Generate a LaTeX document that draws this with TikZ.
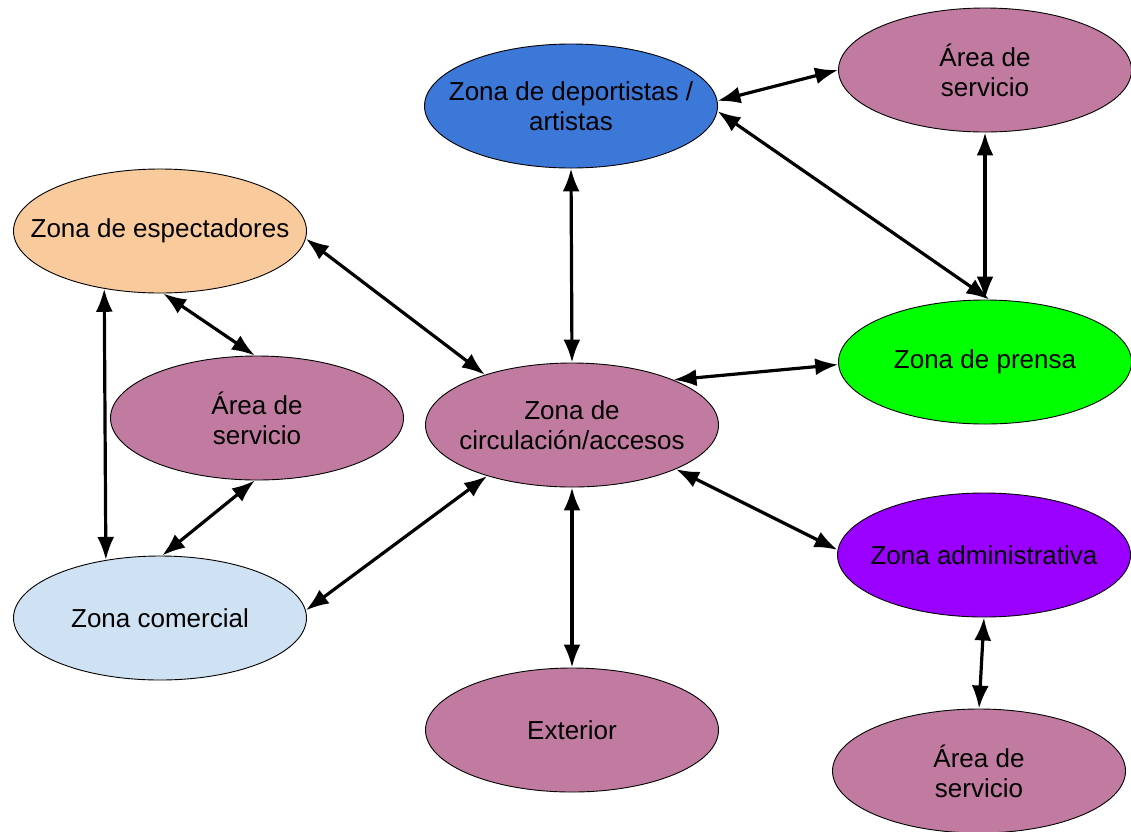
\documentclass[tikz,border=0pt]{standalone}
\usepackage{fontspec}
\setmainfont{Liberation Sans}
\usetikzlibrary{shapes.geometric,arrows.meta}
\definecolor{azul}{HTML}{3C78D8}
\definecolor{malva}{HTML}{C27BA0}
\definecolor{melocoton}{HTML}{F9CB9C}
\definecolor{verde}{HTML}{00FF00}
\definecolor{morado}{HTML}{9900FF}
\definecolor{celeste}{HTML}{CFE2F3}
\tikzset{
  zona/.style={ellipse,draw=black,line width=0.9pt,minimum width=293pt,
    minimum height=124pt,inner xsep=-30pt,inner ysep=0pt,align=center,
    font=\fontsize{26}{30}\selectfont},
  flecha/.style={{Latex[length=23pt,width=17pt]}-{Latex[length=23pt,width=17pt]},
    line width=3.2pt}
}
\begin{document}
\begin{tikzpicture}[x=1pt,y=-1pt]
    \useasboundingbox (0,0) rectangle (1131,831);
    % zonas
    \node[zona,fill=azul] (dep) at (571,106) {Zona de deportistas /\\artistas};
    \node[zona,fill=malva] (atr) at (985,70) {Área de\\servicio};
    \node[zona,fill=melocoton] (esp) at (160,231) {Zona de espectadores};
    \node[zona,fill=malva] (asl) at (257,418) {Área de\\servicio};
    \node[zona,fill=malva] (circ) at (572,425) {Zona de\\circulación/accesos};
    \node[zona,fill=verde] (pre) at (985,362) {Zona de prensa};
    \node[zona,fill=celeste] (com) at (160,618) {Zona comercial};
    \node[zona,fill=malva] (ext) at (572,730) {Exterior};
    \node[zona,fill=morado] (adm) at (984,555) {Zona administrativa};
    \node[zona,fill=malva] (abr) at (979,771) {Área de\\servicio};
    % conexiones
    \draw[flecha] (dep.2) -- (atr.180);
    \draw[flecha] (dep.-2) -- (pre.86);
    \draw[flecha] (atr.south) -- (pre.north);
    \draw[flecha] (dep.south) -- (circ.north);
    \draw[flecha] (esp.-3) -- (circ.150);
    \draw[flecha] (esp.-87) -- (asl.92);
    \draw[flecha] (esp.226.7) -- (com.133.3);
    \draw[flecha] (asl.268) -- (com.88);
    \draw[flecha] (com.3) -- (circ.211);
    \draw[flecha] (circ.24.5) -- (pre.181);
    \draw[flecha] (circ.-23) -- (adm.178);
    \draw[flecha] (circ.south) -- (ext.north);
    \draw[flecha] (adm.south) -- (abr.north);
\end{tikzpicture}
\end{document}
